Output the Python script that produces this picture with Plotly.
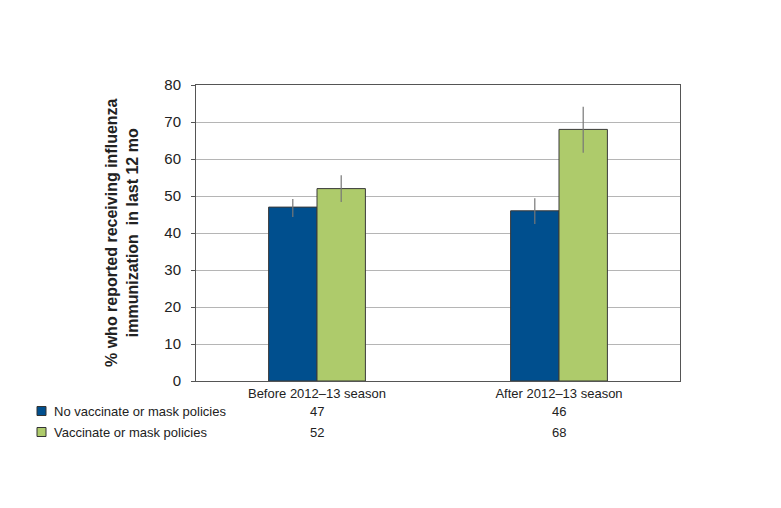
import plotly.graph_objects as go

categories = ["Before 2012–13 season", "After 2012–13 season"]
series_names = ["No vaccinate or mask policies", "Vaccinate or mask policies"]
no_policy = [47, 46]
policy = [52, 68]
no_policy_err_plus = [2.2, 3.4]
no_policy_err_minus = [2.7, 3.6]
policy_err_plus = [3.6, 6.1]
policy_err_minus = [3.6, 6.3]
y_ticks = [0, 10, 20, 30, 40, 50, 60, 70, 80]

colors = ["#004F8E", "#AECB6B"]
FONT = "Liberation Sans, Arial, Helvetica, sans-serif"

fig = go.Figure()
for name, vals, ep, em, col in [
    (series_names[0], no_policy, no_policy_err_plus, no_policy_err_minus, colors[0]),
    (series_names[1], policy, policy_err_plus, policy_err_minus, colors[1]),
]:
    fig.add_trace(go.Bar(
        x=categories, y=vals, name=name,
        marker=dict(color=col, line=dict(color="#3a3a3a", width=1)),
        error_y=dict(type="data", symmetric=False, array=ep, arrayminus=em,
                     color="#777777", thickness=1.2, width=0),
        showlegend=False,
    ))

# table rows below the axis
row_shift = [-30, -51]
for i, (name, vals, col) in enumerate([
    (series_names[0], no_policy, colors[0]),
    (series_names[1], policy, colors[1]),
]):
    fig.add_shape(type="rect", xref="paper", yref="paper",
                  xsizemode="pixel", ysizemode="pixel",
                  xanchor=0, yanchor=0,
                  x0=-159, x1=-150, y0=row_shift[i] - 4.5, y1=row_shift[i] + 4.5,
                  fillcolor=col, line=dict(color="#333333", width=1))
    fig.add_annotation(xref="paper", yref="paper", x=0, y=0,
                       xshift=-144, yshift=row_shift[i], xanchor="left", yanchor="middle",
                       text=name, showarrow=False,
                       font=dict(family=FONT, size=13, color="#222"))
    for c, v in zip(categories, vals):
        fig.add_annotation(xref="x", yref="paper", x=c, y=0,
                           yshift=row_shift[i], xanchor="center", yanchor="middle",
                           text=str(v), showarrow=False,
                           font=dict(family=FONT, size=13, color="#222"))

fig.add_annotation(xref="paper", yref="paper", x=0, y=0.5, xshift=-74,
                   xanchor="center", yanchor="middle", textangle=-90,
                   text="<b>% who reported receiving influenza<br>immunization  in last 12 mo</b>",
                   showarrow=False,
                   font=dict(family=FONT, size=16, color="#222"))

fig.update_layout(
    width=773, height=500,
    margin=dict(l=188, r=101, t=77, b=127),
    paper_bgcolor="white", plot_bgcolor="white",
    barmode="group", bargap=0.6, bargroupgap=0,
    font=dict(family=FONT, color="#222"),
)
fig.update_xaxes(showline=True, linecolor="#555", linewidth=1, mirror=True,
                 ticks="", tickfont=dict(size=13, family=FONT, color="#222"))
fig.update_yaxes(range=[0, 80], tickvals=y_ticks, showgrid=True, gridcolor="#b5b5b5",
                 gridwidth=1, showline=True, linecolor="#555", linewidth=1, mirror=True,
                 ticks="outside", ticklen=4, tickcolor="#555", zeroline=False,
                 ticklabelstandoff=7,
                 tickfont=dict(size=15, family=FONT, color="#222"))

fig.write_html("out.html")
